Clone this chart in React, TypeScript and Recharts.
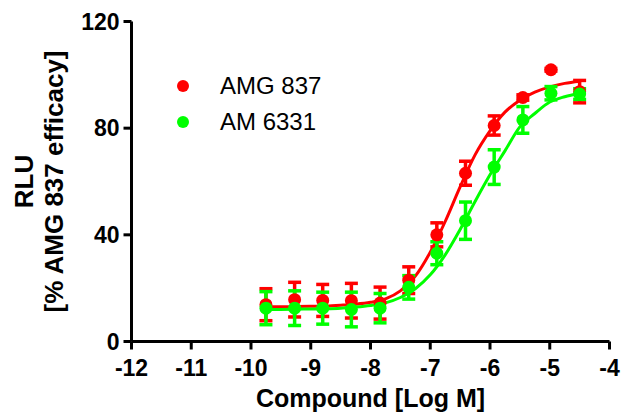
import { ComposedChart, Line, Scatter, XAxis, YAxis, ErrorBar, Legend } from 'recharts';

const FONT = 'Arial, "Liberation Sans", sans-serif';

const xTicks = [-12, -11, -10, -9, -8, -7, -6, -5, -4];
const yTicks = [0, 40, 80, 120];

// log dose, 3-fold dilutions
const doses = [-9.75, -9.27, -8.8, -8.32, -7.84, -7.36, -6.89, -6.41, -5.93, -5.45, -4.98, -4.5];

const amg837Mean = [13.8, 15.7, 15.4, 15.3, 14.4, 23, 40.0, 63.1, 81.0, 91.5, 101.9, 93.7];
const amg837Err = [6, 6.5, 6, 6.5, 6, 5, 4.5, 4.5, 3.6, 1, 0.5, 4.2];
const am6331Mean = [12.5, 12.5, 12.5, 12.0, 12.5, 20.3, 33.1, 45.3, 65.4, 83.1, 93.1, 92.8];
const am6331Err = [6.2, 6.5, 6, 6.5, 5.5, 4.4, 4.3, 7, 6.5, 5, 2.5, 2];

// fitted curves
const fitX = [-9.75, -9.5, -9.25, -9, -8.75, -8.5, -8.25, -8, -7.75, -7.5, -7.25, -7, -6.75, -6.5, -6.25, -6, -5.75, -5.5, -5.25, -5, -4.75, -4.5];
const amg837Fit = [13.0, 13.0, 13.1, 13.2, 13.3, 13.6, 14.0, 14.7, 16.0, 19.0, 24.5, 33.5, 45, 58, 70, 79, 86, 90.5, 93.5, 95.5, 96.8, 97.6];
const am6331Fit = [12.0, 12.0, 12.1, 12.2, 12.3, 12.5, 12.9, 13.5, 14.5, 16.5, 19.8, 25, 32.5, 42, 52.5, 62.5, 71.5, 80.5, 85.5, 89.8, 91.8, 93];

const seriesNames = ['AMG 837', 'AM 6331'];
const seriesColors = ['#ff0000', '#00ff00'];

const toPoints = (mean: number[], err: number[]) =>
  doses.map((x, i) => ({ x, y: mean[i], err: err[i] }));
const toCurve = (ys: number[]) => fitX.map((x, i) => ({ x, y: ys[i] }));

const dot = (color: string) => (props: any) =>
  <circle cx={props.cx} cy={props.cy} r={6.5} fill={color} />;

const boldText = { fontFamily: FONT, fontWeight: 700, fill: '#000' };

const renderXTick = (props: any) => (
  <text x={props.x} y={props.y} dy={26} textAnchor="middle" fontSize={23} style={boldText}>
    {props.payload.value}
  </text>
);

const renderYTick = (props: any) => (
  <text x={props.x} y={props.y} dx={-4} dy={8} textAnchor="end" fontSize={23} style={boldText}>
    {props.payload.value}
  </text>
);

const YLabel = (props: any) => {
  const vb = props.viewBox || { x: 0, y: 21.5, width: 131.5, height: 320 };
  const cy = vb.y + vb.height / 2;
  return (
    <g>
      <text x={33} y={cy} textAnchor="middle" fontSize={26} style={boldText} transform={`rotate(-90, 33, ${cy})`}>RLU</text>
      <text x={63} y={cy} textAnchor="middle" fontSize={26} style={boldText} transform={`rotate(-90, 63, ${cy})`}>[% AMG 837 efficacy]</text>
    </g>
  );
};

const renderLegend = () => (
  <div style={{ fontFamily: FONT, fontSize: 24, color: '#000' }}>
    {seriesNames.map((name, i) => (
      <div key={name} style={{ display: 'flex', alignItems: 'center', height: 36 }}>
        <span style={{ display: 'inline-block', width: 12, height: 12, borderRadius: 6, background: seriesColors[i], marginRight: 31 }} />
        {name}
      </div>
    ))}
  </div>
);

export default function App() {
  const axisLine = { stroke: '#000', strokeWidth: 3 };
  return (
    <div style={{ position: 'absolute', left: 0, top: 0 }}>
      <ComposedChart width={623} height={414} margin={{ top: 21.5, right: 13.5, left: 0, bottom: 0 }}>
        <XAxis
          type="number"
          dataKey="x"
          domain={[-12, -4]}
          ticks={xTicks}
          interval={0}
          allowDataOverflow
          height={72.5}
          axisLine={axisLine}
          tickLine={axisLine}
          tickSize={8}
          tickMargin={0}
          tick={renderXTick}
          label={{ value: 'Compound [Log M]', position: 'insideBottom', offset: 7.5, fill: '#000', fontSize: 25, fontWeight: 'bold', fontFamily: FONT }}
        />
        <YAxis
          type="number"
          dataKey="y"
          domain={[0, 120]}
          ticks={yTicks}
          interval={0}
          allowDataOverflow
          width={131.5}
          axisLine={axisLine}
          tickLine={axisLine}
          tickSize={8}
          tickMargin={0}
          tick={renderYTick}
          label={<YLabel />}
        />
        <Legend layout="vertical" align="center" verticalAlign="middle" content={renderLegend}
          wrapperStyle={{ position: 'absolute', left: 177, top: 68, width: 'auto', height: 'auto' }} />
        <Line data={toCurve(amg837Fit)} dataKey="y" type="monotone" stroke={seriesColors[0]} strokeWidth={3}
          dot={false} activeDot={false} legendType="none" isAnimationActive={false} />
        <Scatter name={seriesNames[0]} data={toPoints(amg837Mean, amg837Err)} dataKey="y" fill={seriesColors[0]}
          shape={dot(seriesColors[0])} isAnimationActive={false}>
          <ErrorBar dataKey="err" direction="y" width={6.5} stroke={seriesColors[0]} strokeWidth={3.5} isAnimationActive={false} />
        </Scatter>
        <Line data={toCurve(am6331Fit)} dataKey="y" type="monotone" stroke={seriesColors[1]} strokeWidth={3}
          dot={false} activeDot={false} legendType="none" isAnimationActive={false} />
        <Scatter name={seriesNames[1]} data={toPoints(am6331Mean, am6331Err)} dataKey="y" fill={seriesColors[1]}
          shape={dot(seriesColors[1])} isAnimationActive={false}>
          <ErrorBar dataKey="err" direction="y" width={6.5} stroke={seriesColors[1]} strokeWidth={3.5} isAnimationActive={false} />
        </Scatter>
      </ComposedChart>
    </div>
  );
}
